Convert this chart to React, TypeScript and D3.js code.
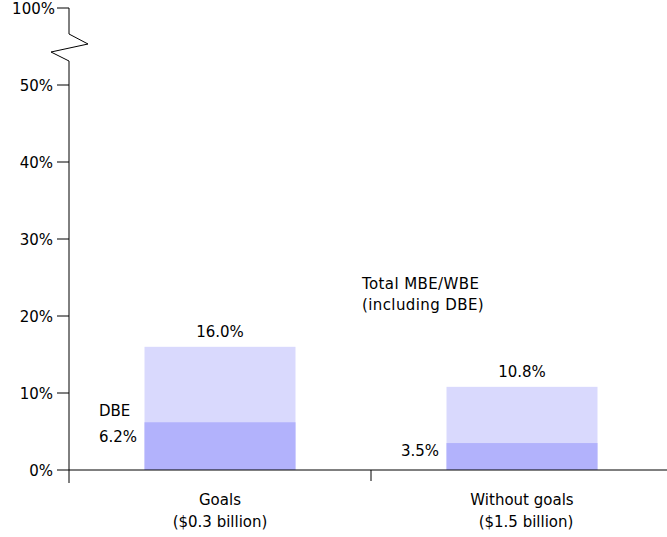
import React from "react";
import * as d3 from "d3";

const categories = ["Goals", "Without goals"];
const subLabels = ["($0.3 billion)", "($1.5 billion)"];
const totalValues = [16.0, 10.8];
const dbeValues = [6.2, 3.5];
const tickValues = [0, 10, 20, 30, 40, 50];
const topTickLabel = "100%";

const W = 667;
const H = 537;
const FONT = "'DejaVu Sans', sans-serif";
const FS = 15;

export default function App() {
  const y = d3.scaleLinear().domain([0, 50]).range([470, 85]);
  const x = d3.scaleBand<string>().domain(categories).range([69, 673]).paddingInner(0.5).paddingOuter(0.25);
  const axisX = 69;
  const bw = x.bandwidth();

  const zig = d3.line()([
    [axisX, 8],
    [axisX, 34],
    [axisX + 19, 44],
    [axisX - 18, 52],
    [axisX, 61],
    [axisX, 483],
  ]);

  return (
    <svg width={W} height={H} style={{ position: "absolute", left: 0, top: 0, fontFamily: FONT }}>
      <rect width={W} height={H} fill="#fff" />
      {categories.map((c, i) => (
        <g key={c}>
          <rect x={x(c)} y={y(totalValues[i])} width={bw} height={y(0) - y(totalValues[i])} fill="#d9d9fd" />
          <rect x={x(c)} y={y(dbeValues[i])} width={bw} height={y(0) - y(dbeValues[i])} fill="#b2b2fc" />
          <text x={x(c)! + bw / 2} y={y(totalValues[i]) - 10} textAnchor="middle" fontSize={FS} fill="#000">
            {totalValues[i].toFixed(1) + "%"}
          </text>
          <text x={x(c)! + bw / 2} y={505} textAnchor="middle" fontSize={FS} fill="#000">{c}</text>
          <text x={x(c)! + bw / 2 + (i === 1 ? 4 : 0)} y={527} textAnchor="middle" fontSize={FS} fill="#000">{subLabels[i]}</text>
        </g>
      ))}
      <text x={99} y={416} fontSize={FS} fill="#000">DBE</text>
      <text x={99} y={442} fontSize={FS} fill="#000">{dbeValues[0].toFixed(1) + "%"}</text>
      <text x={439} y={456} textAnchor="end" fontSize={FS} fill="#000">{dbeValues[1].toFixed(1) + "%"}</text>
      <text x={362} y={289} fontSize={FS} letterSpacing={0.4} fill="#000">Total MBE/WBE</text>
      <text x={362} y={310} fontSize={FS} letterSpacing={0.4} fill="#000">(including DBE)</text>

      <path d={zig!} fill="none" stroke="#000" strokeWidth={1} />
      <line x1={axisX} x2={W} y1={y(0)} y2={y(0)} stroke="#000" />
      <line x1={x(categories[1])! - bw / 2} x2={x(categories[1])! - bw / 2} y1={y(0)} y2={481} stroke="#000" />
      <line x1={57} x2={axisX} y1={8} y2={8} stroke="#000" />
      <text x={55} y={14} textAnchor="end" fontSize={FS} fill="#000">{topTickLabel}</text>
      {tickValues.map((t) => (
        <g key={t}>
          <line x1={57} x2={axisX} y1={y(t)} y2={y(t)} stroke="#000" />
          <text x={53} y={y(t) + 5.5} textAnchor="end" fontSize={FS} fill="#000">{t + "%"}</text>
        </g>
      ))}
    </svg>
  );
}
